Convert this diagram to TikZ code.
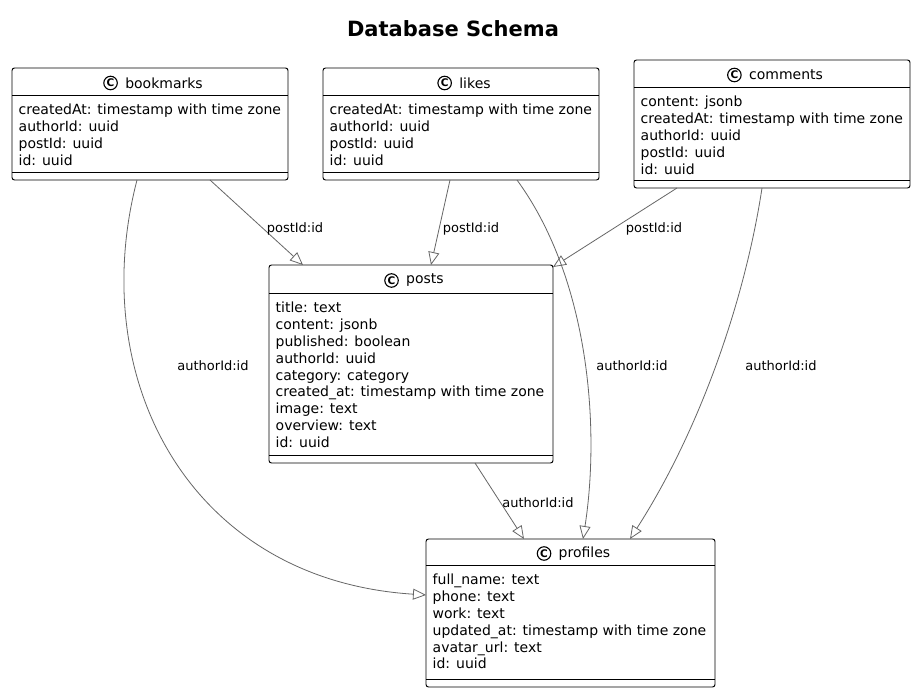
\documentclass[tikz,border=0pt]{standalone}
\usepackage{fontspec}
\setmainfont{DejaVu Sans}
\usetikzlibrary{arrows.meta,calc}
\tikzset{
  classframe/.style={draw=black, line width=0.95pt, rounded corners=2.5pt, fill=white, inner sep=0pt, outer sep=0pt},
  boxline/.style={draw=black, line width=0.95pt},
  classname/.style={font=\fontsize{14}{16}\selectfont, inner sep=0pt},
  classicon/.style={circle, draw=black, line width=1.1pt, minimum size=13.5pt, inner sep=0pt, font=\bfseries\fontsize{10.5}{12}\selectfont},
  memberlist/.style={anchor=north west, align=left, inner sep=0pt, font=\fontsize{14}{16.8}\selectfont},
  rel/.style={draw=black!60, line width=0.8pt, -{Triangle[open, length=13pt, width=11pt, line width=0.8pt]}},
  rellabel/.style={font=\fontsize{13}{15}\selectfont, inner sep=0pt},
  titletext/.style={font=\bfseries\fontsize{21}{24}\selectfont, inner sep=0pt}
}
\newcommand\classbox[9]{%
  \node[classframe, minimum width={#4-#2}, minimum height={#5-#3}, anchor=north west] (#1) at (#2,#3) {};
  \draw[boxline] (#2,#6) -- (#4,#6);
  \draw[boxline] (#2,#7) -- (#4,#7);
  \node[classname] (#1-name) at ({(#2+#4)/2+14},{(#3+#6)/2+1.5}) {#8};
  \node[classicon] (#1-icon) at ([xshift=-14.5pt]#1-name.west) {C};
  \node[memberlist] (#1-members) at ({#2+6.5},{#6+9}) {#9};
}
\begin{document}
\begin{tikzpicture}[x=1pt, y=-1pt]
  \path[fill=white, use as bounding box] (0,0) rectangle (916,692);
  \node[titletext] (title) at (453,29) {Database Schema};

  \classbox{bookmarks}{12}{68}{288}{180}{95}{172}{bookmarks}{createdAt: timestamp with time zone\\authorId: uuid\\postId: uuid\\id: uuid}
  \classbox{likes}{323}{68}{599}{180}{95}{172}{likes}{createdAt: timestamp with time zone\\authorId: uuid\\postId: uuid\\id: uuid}
  \classbox{comments}{634}{60}{910}{188}{87}{180}{comments}{content: jsonb\\createdAt: timestamp with time zone\\authorId: uuid\\postId: uuid\\id: uuid}
  \classbox{posts}{269}{265}{553}{463}{293}{455}{posts}{title: text\\content: jsonb\\published: boolean\\authorId: uuid\\category: category\\created\_at: timestamp with time zone\\image: text\\overview: text\\id: uuid}
  \classbox{profiles}{426}{539}{715}{687}{565}{679}{profiles}{full\_name: text\\phone: text\\work: text\\updated\_at: timestamp with time zone\\avatar\_url: text\\id: uuid}

  % postId relations
  \draw[rel] ($(bookmarks.south west)+(198,0)$) -- ($(posts.north west)+(34,0)$);
  \draw[rel] ($(likes.south west)+(127,0)$) -- ($(posts.north west)+(162,0)$);
  \draw[rel] ($(comments.south west)+(43,0)$) -- ($(posts.north east)+(0,2)$);
  % authorId relations
  \draw[rel] ($(bookmarks.south west)+(125,0)$) .. controls (85,380) and (190,580) .. ($(profiles.north west)+(0,56)$);
  \draw[rel] ($(likes.south west)+(194,0)$) .. controls (590,280) and (600,430) .. ($(profiles.north west)+(157,0)$);
  \draw[rel] ($(comments.south west)+(128,0)$) .. controls (745,300) and (700,430) .. ($(profiles.north west)+(204,0)$);
  \draw[rel] ($(posts.south west)+(206,0)$) -- ($(profiles.north west)+(98,0)$);

  \node[rellabel] (l1) at (295,229) {postId:id};
  \node[rellabel] (l2) at (471,229) {postId:id};
  \node[rellabel] (l3) at (654,229) {postId:id};
  \node[rellabel] (l4) at (213,366) {authorId:id};
  \node[rellabel] (l5) at (632,366) {authorId:id};
  \node[rellabel] (l6) at (781,366) {authorId:id};
  \node[rellabel] (l7) at (538,503) {authorId:id};
\end{tikzpicture}
\end{document}
